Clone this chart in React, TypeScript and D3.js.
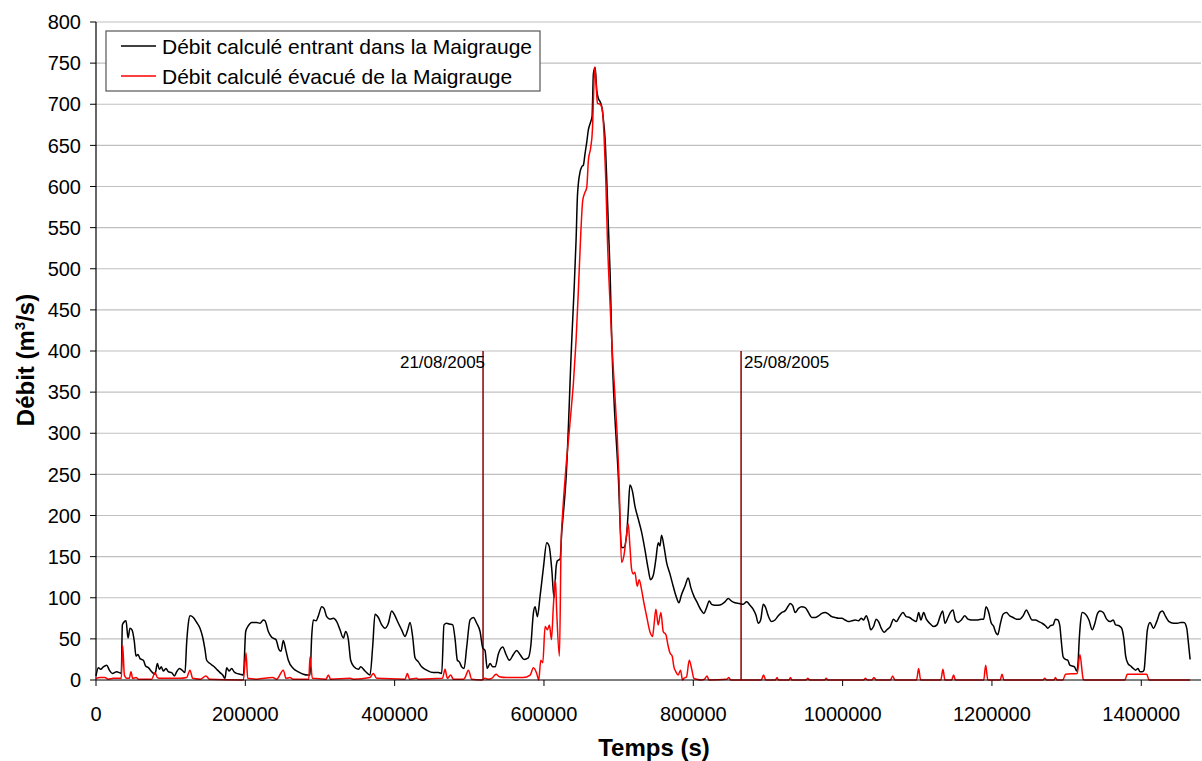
import React from "react";
import * as d3 from "d3";

// time in thousands of seconds, discharge in m3/s
const inflowSeries: [number, number][] = [
  [0,5],[3.1,15],[6.3,13],[9.8,16],[14.3,18],[17.9,12],[21.9,8],[27.7,10],[31.3,9],[33.9,8],[35.3,67],[38,71],[40.2,72],[42.9,51],[45.5,63],[48.2,61],[51.3,47],[53.6,29],[56.3,31],[58.9,26],[63.4,24],[66.5,17],[70.1,15],[74.6,10],[79,7],[82.2,20],[84.8,13],[87.5,16],[90.2,11],[93.8,14],[96.9,10],[101.4,9],[104.9,5],[108.1,10],[111.6,14],[115.2,12],[119.2,9],[121.4,45],[123.7,69],[125.9,78],[130.4,76],[134.8,70],[139.3,63],[142.9,52],[146,37],[148.2,24],[152.7,20],[157.2,17],[161.6,13],[166.1,9],[169.7,6],[172.8,2],[175,15],[178.2,11],[181.7,14],[184.9,10],[188.4,8],[192.9,7],[197.4,6],[200.5,59],[204.1,66],[208.5,70],[215.2,70],[219.7,69],[224.1,73],[226.4,72],[230.8,59],[235.3,52],[241.1,49],[245.1,37],[247.8,35],[250.9,48],[254.1,37],[257.6,24],[264.3,14],[271,10],[277.7,7],[283.5,6],[286.6,6],[288.9,53],[291.1,73],[294.7,72],[297.8,78],[302.3,89],[305.4,87],[309,77],[313.4,74],[317.9,75],[322.4,71],[326.8,61],[331.3,51],[334.4,59],[338,49],[341.1,24],[345.6,16],[351.4,13],[354.5,16],[360.3,11],[367,6],[370.6,41],[373.7,80],[378.2,76],[382.7,67],[387.1,63],[391.6,69],[396,84],[400.5,78],[405,69],[409.4,61],[413.9,53],[417.5,61],[420.6,70],[424.2,52],[427.3,27],[431.8,22],[436.2,16],[442.9,12],[451.9,9],[458.6,9],[463,8],[466.1,67],[469.7,69],[473.3,68],[477.8,67],[480.9,50],[484,24],[486.7,22],[489.8,16],[493,14],[496.5,40],[501,73],[505.4,76],[509.9,69],[514.4,59],[518,39],[521,36],[524,14],[527.8,20],[531.4,16],[534.5,16],[539,32],[544.8,40],[549.2,31],[553.7,24],[559,31],[563.5,36],[567.9,31],[573.3,25],[579,27],[582.3,41],[585.9,82],[588.1,89],[591.2,77],[594.8,102],[599.3,137],[603.7,167],[606.9,163],[610.4,135],[613.5,100],[616.2,137],[618,145],[621.6,147],[623.8,180],[626.1,204],[629.6,245],[637.2,413],[640.3,474],[643,535],[644.8,588],[646.1,604],[648.4,618],[650.6,624],[652.8,626],[655,640],[657.3,654],[659.5,669],[662.7,679],[664.4,685],[666.2,737],[668.5,745],[670.7,717],[672.9,707],[675.2,703],[677.4,697],[679.6,681],[681.9,657],[684.1,608],[686.3,551],[688.6,494],[690.8,413],[699.7,245],[703.9,161],[707,161],[710.6,176],[712.8,204],[715.1,237],[718.6,229],[721.7,212],[726.2,196],[730.7,180],[735.1,159],[739.6,135],[742.7,122],[746.3,127],[749.9,147],[753,167],[755.3,163],[757.5,176],[760.6,163],[764.2,143],[768.7,129],[773.1,114],[777.6,100],[780.7,94],[784.3,104],[788.8,114],[793.2,124],[796.8,112],[800.8,102],[805.3,94],[809.7,86],[814.2,81],[817.8,88],[821.4,96],[824.5,92],[829,91],[833.4,91],[837.9,92],[842.4,95],[846.8,99],[851.3,96],[855.8,94],[861.6,93],[866.9,92],[871.4,95],[875.9,91],[880.3,86],[883.9,79],[887,69],[890.2,73],[893.7,92],[896.9,88],[900.4,78],[904.9,71],[909.4,73],[913.8,78],[918.3,82],[922.8,84],[927.2,90],[929.7,93],[933.3,90],[936.4,82],[940.9,87],[945.3,89],[949.8,88],[954.3,82],[958.7,76],[963.2,76],[967.7,78],[972.1,81],[976.6,82],[981.1,80],[985.5,77],[990,76],[994.5,75],[998.9,75],[1003.4,73],[1007.9,71],[1012.3,72],[1016.8,73],[1021.3,72],[1024.9,75],[1028,73],[1031.6,78],[1034.7,71],[1037.8,61],[1041.4,65],[1045,74],[1048.1,71],[1051.7,63],[1055.7,58],[1059.3,61],[1063.8,65],[1068.2,74],[1071.8,71],[1076.3,77],[1080.8,82],[1085.2,77],[1089.7,76],[1094.2,73],[1098.6,71],[1101.8,82],[1104.9,73],[1108.5,82],[1112.1,74],[1116.5,69],[1121.9,65],[1126.4,67],[1130.8,78],[1134,84],[1137.1,69],[1141.1,76],[1144.2,82],[1147.8,85],[1151,73],[1154.5,70],[1159,73],[1163.5,78],[1167.9,74],[1172.4,73],[1176.9,73],[1181.3,73],[1185.8,74],[1188.9,74],[1192.1,89],[1195.7,82],[1198.8,70],[1202.4,65],[1204.6,59],[1207.8,55],[1211.4,69],[1214.9,80],[1219.4,82],[1223.9,78],[1228.3,76],[1232.8,74],[1237.3,74],[1241.7,78],[1246.2,85],[1249.3,80],[1253.8,73],[1258.3,73],[1262.7,71],[1267.2,69],[1271.7,66],[1274.8,63],[1278.4,66],[1282,67],[1285.1,74],[1288.2,73],[1290.9,66],[1292.7,49],[1295.4,28],[1298.5,25],[1301.7,24],[1304.3,18],[1307.5,17],[1310.6,16],[1313.3,11],[1315.1,18],[1316.9,49],[1318.7,71],[1320.9,82],[1325.4,80],[1329.9,73],[1334.3,61],[1337.9,69],[1341,80],[1344.6,84],[1349.1,82],[1353.6,74],[1358,71],[1362.5,73],[1365.6,67],[1370.1,66],[1373.7,63],[1376.8,49],[1379.1,29],[1382.2,20],[1385.8,17],[1389.4,14],[1392.5,12],[1395.6,14],[1398.3,10],[1401.5,10],[1403.7,12],[1405.9,35],[1408.2,61],[1411.7,70],[1416.2,63],[1420.7,71],[1425.1,82],[1428.3,84],[1432.7,77],[1437.2,71],[1443,69],[1448.4,69],[1452.8,70],[1457.3,70],[1460.9,63],[1462.7,49],[1465.4,25]
];

const outflowSeries: [number, number][] = [
  [0,2],[5.4,3],[12,3],[16.5,1],[23,2],[32.1,2],[33.9,2],[35.7,42],[38,6],[41.1,2],[44.5,2],[46.9,10],[49.1,2],[53.6,3],[56.7,1],[74.6,1],[79,9],[82.2,3],[86,2],[112.5,2],[121.4,3],[125.9,12],[129.5,2],[140,1],[147.3,5],[151.8,1],[197.4,0],[200.9,33],[203.2,2],[215,1],[236.6,3],[242,1],[250.9,12],[254.5,2],[259.9,3],[264,1],[285,1],[286.6,28],[289.8,2],[308,1],[311.2,6],[314.3,1],[340.2,2],[345,1],[367,3],[371.5,8],[375.9,2],[414,1],[417,8],[420,1],[429.5,2],[432,1],[464,2],[467.5,13],[470.6,2],[475.1,6],[478.6,1],[492,1],[494.3,3],[498.8,12],[503.2,1],[516.6,0],[521,2],[525,1],[530,2],[535.8,7],[540.3,4],[550,3],[559,3],[572.4,3],[581.4,6],[585.9,15],[590.3,8],[593,0],[595.7,24],[598.4,21],[601.5,65],[604.6,61],[607.3,67],[610,49],[612.6,90],[615.3,122],[617.1,82],[620.7,29],[622.9,163],[625.1,204],[628.3,245],[643,413],[646.1,474],[649.3,543],[651.9,583],[655,593],[657.3,599],[659.5,632],[662.7,648],[664.9,669],[666.2,705],[668,745],[669.8,725],[671.6,701],[675.2,700],[678.3,693],[680.5,661],[682.8,608],[685,535],[687.7,474],[690.8,413],[700.5,245],[703.9,143],[707,151],[710.6,176],[712.8,190],[715.1,163],[717.3,135],[719.5,129],[721.7,131],[724.9,114],[727.5,122],[730.7,110],[733.8,94],[737.4,78],[741.8,59],[745.4,53],[747.6,69],[749.9,86],[753,67],[756.6,82],[759.7,59],[763.3,55],[766.4,41],[768.7,33],[771.8,29],[774,16],[776.7,10],[779.8,6],[782.9,12],[785.6,0],[787.4,2],[791,4],[794.6,24],[797.7,14],[800.8,2],[804.4,1],[811.1,0],[815,1],[818.4,5],[821,0],[845,1],[847.8,3],[850,0],[891,0],[894.1,6],[897,0],[910,0],[912.2,3],[914,0],[928,0],[930.2,3],[932,0],[951,0],[953.4,2],[956,0],[976,0],[978,2],[980,0],[1028,0],[1030.6,2],[1033,0],[1039,0],[1041.9,3],[1045,0],[1064,0],[1067,5],[1070,0],[1099,0],[1101.8,14],[1104.5,0],[1131.5,0],[1134.4,13],[1137,0],[1146,0],[1148.7,6],[1151,0],[1189,0],[1191.6,18],[1194.5,0],[1211,0],[1213.5,7],[1216,0],[1268,0],[1270.8,2],[1273,0],[1283,0],[1285.1,3],[1287,0],[1295,0],[1298.5,7],[1314.2,8],[1317.8,31],[1322.3,1],[1324,0],[1378,0],[1381.3,7],[1407.3,7],[1410.4,0],[1465.4,0]
];

const yTicks = [0, 50, 100, 150, 200, 250, 300, 350, 400, 450, 500, 550, 600, 650, 700, 750, 800];
const xTicks = [0, 200000, 400000, 600000, 800000, 1000000, 1200000, 1400000];
const dateMarkers: { t: number; label: string; side: "left" | "right" }[] = [
  { t: 518400, label: "21/08/2005", side: "left" },
  { t: 864000, label: "25/08/2005", side: "right" },
];
const markerTop = 400;
const legendLabels = ["Débit calculé entrant dans la Maigrauge", "Débit calculé évacué de la Maigrauge"];
const seriesColors = ["#000000", "#ff0000"];

const FONT = "'Liberation Sans', Arial, sans-serif";

export default function App() {
  const x = d3.scaleLinear().domain([0, 1480000]).range([96, 1201]);
  const y = d3.scaleLinear().domain([0, 800]).range([680, 22]);
  const line = d3
    .line<[number, number]>()
    .x((d) => x(d[0] * 1000))
    .y((d) => y(d[1]))
    .curve(d3.curveMonotoneX);

  const left = x(0);
  const right = x(1480000);
  const series = [inflowSeries, outflowSeries];

  return (
    <svg
      width={1202}
      height={761}
      style={{ position: "absolute", left: 0, top: 0, background: "#fff" }}
      fontFamily={FONT}
    >
      <rect x={0} y={0} width={1202} height={761} fill="#fff" />
      {yTicks.filter((v) => v > 0).map((v) => (
        <line key={"g" + v} x1={left} x2={right} y1={y(v)} y2={y(v)} stroke="#c0c0c0" strokeWidth={1.2} />
      ))}
      {/* y axis */}
      <line x1={left} x2={left} y1={y(800)} y2={y(0)} stroke="#000" strokeWidth={1.2} />
      {yTicks.map((v) => (
        <g key={"yt" + v}>
          <line x1={left - 6} x2={left} y1={y(v)} y2={y(v)} stroke="#000" strokeWidth={1} />
          <text x={left - 15} y={y(v)} dy="0.36em" textAnchor="end" fontSize={20} fill="#000">
            {v}
          </text>
        </g>
      ))}
      {/* x ticks */}
      {xTicks.map((v) => (
        <g key={"xt" + v}>
          <line x1={x(v)} x2={x(v)} y1={y(0)} y2={y(0) + 6} stroke="#000" strokeWidth={1} />
          <text x={x(v)} y={y(0) + 41} textAnchor="middle" fontSize={20} fill="#000">
            {v}
          </text>
        </g>
      ))}
      {/* date markers */}
      {dateMarkers.map((m) => (
        <g key={m.label}>
          <line x1={x(m.t)} x2={x(m.t)} y1={y(0)} y2={y(markerTop)} stroke="#8b0000" strokeWidth={1.5} />
          <text
            x={m.side === "left" ? x(m.t) + 2 : x(m.t) + 3}
            y={y(markerTop) + 17}
            textAnchor={m.side === "left" ? "end" : "start"}
            fontSize={17}
            fill="#000"
          >
            {m.label}
          </text>
        </g>
      ))}
      {series.map((s, i) => (
        <path key={"s" + i} d={line(s) || ""} fill="none" stroke={seriesColors[i]} strokeWidth={1.5} strokeLinejoin="round" />
      ))}
      {/* x axis */}
      <line x1={left} x2={right} y1={y(0)} y2={y(0)} stroke="#000" strokeWidth={1.2} />
      {/* legend */}
      <rect x={106} y={31} width={434} height={60} fill="#fff" stroke="#555" strokeWidth={1.2} />
      {legendLabels.map((lab, i) => (
        <g key={lab}>
          <line x1={121} x2={156} y1={46 + i * 30} y2={46 + i * 30} stroke={seriesColors[i]} strokeWidth={1.5} />
          <text x={162} y={46 + i * 30} dy="0.36em" fontSize={21} fill="#000">
            {lab}
          </text>
        </g>
      ))}
      {/* axis titles */}
      <text x={654} y={756} textAnchor="middle" fontSize={24} fontWeight="bold" fill="#000">
        Temps (s)
      </text>
      <text
        transform={`translate(34, 360) rotate(-90)`}
        textAnchor="middle"
        fontSize={24}
        fontWeight="bold"
        fill="#000"
      >
        Débit (m<tspan fontSize={15} dy={-9}>3</tspan><tspan dy={9}>/s)</tspan>
      </text>
    </svg>
  );
}
